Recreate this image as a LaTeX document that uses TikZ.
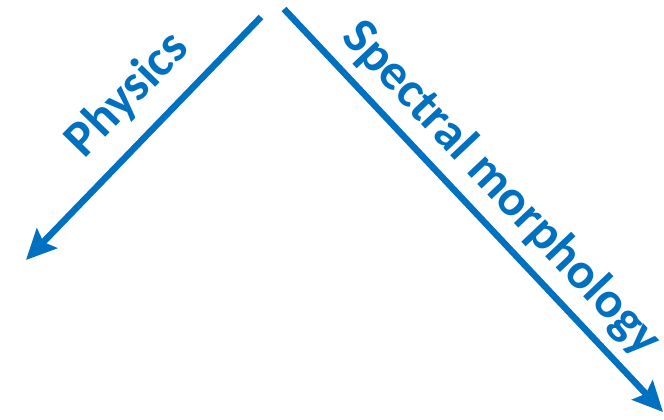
\documentclass[tikz,border=0pt]{standalone}
\usepackage{fontspec}
\setmainfont{Carlito}
\usetikzlibrary{arrows.meta}
\definecolor{arrowblue}{HTML}{0070C0}
\tikzset{
  bigarrow/.style={draw=arrowblue, line width=6.5pt, -{Stealth[length=30pt,width=28pt,inset=5pt]}},
  lbl/.style={text=arrowblue, font=\bfseries\fontsize{51}{56}\selectfont, inner sep=0pt}
}
\begin{document}
\begin{tikzpicture}[x=1pt,y=-1pt]
\useasboundingbox (0,0) rectangle (664,420);
\coordinate (ls) at (261,17);
\coordinate (le) at (26,260);
\coordinate (rs) at (284,9);
\coordinate (re) at (663,412);
\draw[bigarrow] (ls) -- (le);
\draw[bigarrow] (rs) -- (re);
\node[lbl, rotate=45.8] (phys) at (128,95) {Physics};
\node[lbl, rotate=-46.6] (spec) at (501,189) {Spectral morphology};
\end{tikzpicture}
\end{document}
